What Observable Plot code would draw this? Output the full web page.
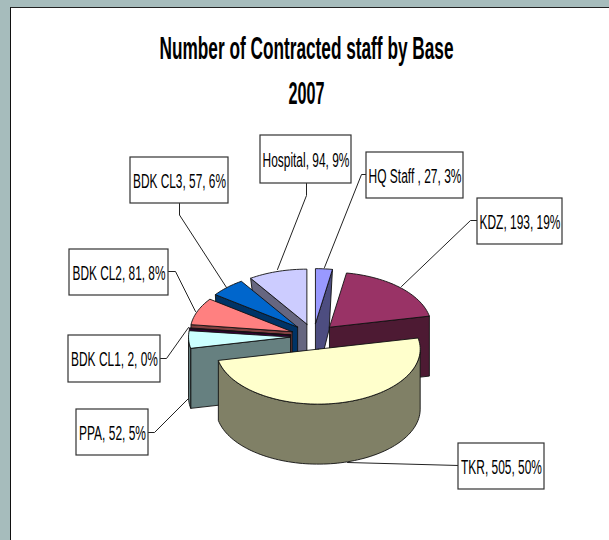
<!DOCTYPE html>
<html><head><meta charset="utf-8">
<script src="https://cdn.jsdelivr.net/npm/d3@7"></script>
<script src="https://cdn.jsdelivr.net/npm/@observablehq/plot@0.6"></script>
<style>
html,body{margin:0;padding:0;background:#a6bcbc;overflow:hidden}
#panel{position:absolute;left:10px;top:7px;width:599px;height:533px;background:#fff;border-left:1.5px solid #111;border-top:1.5px solid #222;box-sizing:border-box}
#chart{position:absolute;left:0;top:0}
svg{background:transparent !important}
</style></head><body>
<div id="panel"></div><div id="chart"></div>
<script>
// Data, clockwise from 12 o'clock
const names = ["HQ Staff ","KDZ","TKR","PPA","BDK CL1","BDK CL2","BDK CL3","Hospital"];
const values = [27,193,505,52,2,81,57,94];
const topColors = ["#9999ff","#993366","#ffffcc","#ccffff","#660066","#ff8080","#0066cc","#ccccff"];
const sideColors = ["#4d4d80","#4d1a33","#808066","#668080","#330033","#804040","#003366","#666680"];
const titleLines = ["Number of Contracted staff by Base","2007"];

// Layout of the callouts, in the same order as names
const boxX1 = [366,477,458,76,68,69,130,260];
const boxX2 = [463,562,544,148,160,168,228,351];
const boxY1 = [152,198,443,409,335,249,157,135];
const boxY2 = [198,244,489,455,382,295,203,183];
const leaders = [
  [[366,174],[361,174],[324,267]],
  [[477,220],[470,220],[401,286]],
  [[458,465],[347,462]],
  [[148,432],[154,432],[188,398]],
  [[160,358],[166,358],[188,327]],
  [[168,271],[175,271],[195,311]],
  [[179,203],[179,214.5],[226,287]],
  [[306,183],[306,195],[277,269]]
];
const textWidths = [93,81,81,67,87,93,93,87];

// Pie projection
const total = d3.sum(values);
const cx=313, cy=336, rx=102, ry=55, depth=60, ex=23, ey=12.9;
const rad = a => a*Math.PI/180;
let acc = 0;
const wedges = values.map((v,i)=>{
  const a0 = acc/total*360; acc += v; const a1 = acc/total*360;
  const m = (a0+a1)/2;
  const ax = cx+ex*Math.sin(rad(m)), ay = cy-ey*Math.cos(rad(m));
  const rim = a => [ax+rx*Math.sin(rad(a)), ay-ry*Math.cos(rad(a))];
  const arc = (s,e) => { const n=Math.max(2,Math.ceil((e-s)/2)); return d3.range(n+1).map(k=>rim(s+(e-s)*k/n)); };
  return {i,a0,a1,ax,ay,rim,arc};
});
// downward extrusion; far points lean slightly toward the apex
const down = (w,p) => {
  const far = Math.max(0,(w.ay-p[1])/ry-0.5)*0.4;
  return [p[0]-(p[0]-w.ax)*far, p[1]+depth];
};
const poly = (pts,fill) => Plot.line([...pts,pts[0]],{x:d=>d[0],y:d=>d[1],fill,stroke:"#111",strokeWidth:0.9,strokeLinejoin:"round",curve:"linear"});

const order = [0,7,6,5,4,3,1,2];
const pieMarks = order.flatMap(i=>{
  const w = wedges[i], apex=[w.ax,w.ay], side=sideColors[i];
  const out = [];
  const radial = a => { const c=w.rim(a); return [apex,c,down(w,c),down(w,apex)]; };
  // only the radial face that turns toward the viewer
  if (w.a1<180) out.push(poly(radial(w.a1),side));
  if (w.a0>180) out.push(poly(radial(w.a0),side));
  const s=Math.max(w.a0,90), e=Math.min(w.a1,270);
  if (s<e) { const t=w.arc(s,e); out.push(poly([...t,...t.map(p=>down(w,p)).reverse()],side)); }
  out.push(poly([apex,...w.arc(w.a0,w.a1)],topColors[i]));
  return out;
});

const labels = names.map((n,i)=>({
  text:`${n}, ${values[i]}, ${Math.round(values[i]/total*100)}%`,
  x:(boxX1[i]+boxX2[i])/2,y:(boxY1[i]+boxY2[i])/2+0.5,
  x1:boxX1[i],x2:boxX2[i],y1:boxY1[i],y2:boxY2[i],w:textWidths[i]
}));
const titles = titleLines.map((t,i)=>({text:t,x:306,y:[48.5,93.5][i],w:[294,36][i]}));

const plot = Plot.plot({
  width:609,height:540,margin:0,
  x:{domain:[0,609],range:[0,609],axis:null},
  y:{domain:[0,540],range:[0,540],axis:null},
  style:{background:"transparent",overflow:"visible"},
  marks:[
    ...pieMarks,
    ...leaders.map(l=>Plot.line(l,{x:d=>d[0],y:d=>d[1],stroke:"#222",strokeWidth:1,curve:"linear"})),
    Plot.rect(labels,{x1:"x1",x2:"x2",y1:"y1",y2:"y2",fill:"#fff",stroke:"#333",strokeWidth:1.2}),
    Plot.text(labels,{x:"x",y:"y",text:"text",fontFamily:"Liberation Sans",fontSize:21,fill:"#000",className:"lab"}),
    Plot.text(titles,{x:"x",y:"y",text:"text",fontFamily:"Liberation Sans",fontWeight:"bold",fontSize:31,fill:"#000",className:"ttl"})
  ]
});
document.getElementById("chart").append(plot);
// the reference type is condensed: squeeze each label horizontally to its read width
const squeeze = (sel,rows) => plot.querySelectorAll(sel+" text").forEach((el,k)=>{
  const sx = rows[k].w/el.getComputedTextLength();
  el.setAttribute("transform",(el.getAttribute("transform")||"")+` scale(${sx},1)`);
});
squeeze(".lab",labels);
squeeze(".ttl",titles);
</script></body></html>
